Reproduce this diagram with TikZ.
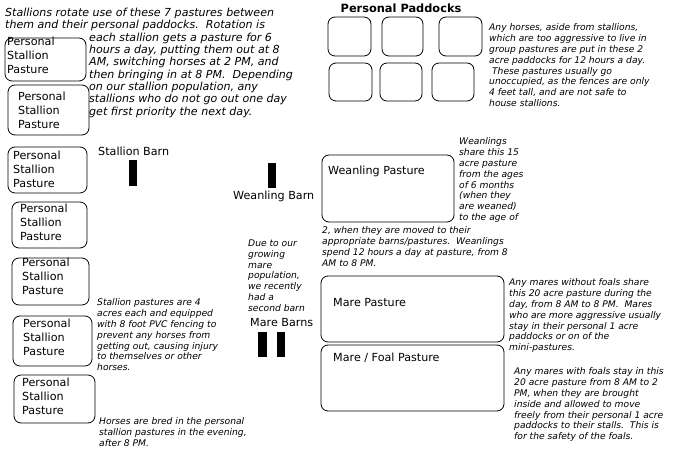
\documentclass[tikz,border=0pt]{standalone}
\usepackage{fontspec}
\setmainfont{DejaVu Sans}

\begin{document}
\begin{tikzpicture}[x=1bp, y=-1bp,
  pasture/.style={draw, line width=0.8bp, rounded corners=7bp},
  barn/.style={fill=black},
  lbl/.style={font=\fontsize{11.2}{14}\selectfont, align=left, inner sep=0},
  note/.style={font=\itshape\fontsize{9.2}{10.9}\selectfont, align=left, anchor=north west, inner sep=0},
  bignote/.style={note, font=\itshape\fontsize{11.1}{12.4}\selectfont}]
  \useasboundingbox (0,0) rectangle (692,450);

  % personal stallion pastures, top to bottom
  \draw[pasture] (5,38) rectangle (86,81);
  \draw[pasture] (8,85) rectangle (89,135);
  \draw[pasture] (8,147) rectangle (87,193);
  \draw[pasture] (12,202) rectangle (87,248);
  \draw[pasture] (12,258) rectangle (89,305);
  \draw[pasture] (13,316) rectangle (92,366);
  \draw[pasture] (14,375) rectangle (95,423);
  \node[lbl, anchor=north west] (sp1) at (7,37) {Personal\\Stallion\\Pasture};
  \node[lbl, anchor=north west] (sp2) at (18,92) {Personal\\Stallion\\Pasture};
  \node[lbl, anchor=north west] (sp3) at (13,151) {Personal\\Stallion\\Pasture};
  \node[lbl, anchor=north west] (sp4) at (20,204) {Personal\\Stallion\\Pasture};
  \node[lbl, anchor=north west] (sp5) at (22,258) {Personal\\Stallion\\Pasture};
  \node[lbl, anchor=north west] (sp6) at (23,319) {Personal\\Stallion\\Pasture};
  \node[lbl, anchor=north west] (sp7) at (22,378) {Personal\\Stallion\\Pasture};

  % personal paddocks
  \node[font=\bfseries\fontsize{11.4}{13}\selectfont, inner sep=0] (paddocks) at (401,8) {Personal Paddocks};
  \draw[pasture] (328,17) rectangle (371,56);
  \draw[pasture] (382,17) rectangle (423,56);
  \draw[pasture] (439,17) rectangle (482,56);
  \draw[pasture] (329,63) rectangle (372,101);
  \draw[pasture] (380,63) rectangle (422,101);
  \draw[pasture] (432,63) rectangle (474,101);

  % group pastures
  \draw[pasture] (322,155) rectangle (454,222);
  \draw[pasture] (321,276) rectangle (504,342);
  \draw[pasture] (321,345) rectangle (504,411);
  \node[lbl, anchor=west] (weanpast) at (328,171) {Weanling Pasture};
  \node[lbl, anchor=west] (marepast) at (333,303) {Mare Pasture};
  \node[lbl, anchor=west] (foalpast) at (333,358) {Mare / Foal Pasture};

  % barns
  \fill[barn] (129,160) rectangle (137,186);
  \fill[barn] (268,163) rectangle (276,188);
  \fill[barn] (258,332) rectangle (267,357);
  \fill[barn] (277,332) rectangle (285,357);
  \node[lbl, anchor=west] (stalbarn) at (98,151) {Stallion Barn};
  \node[lbl, anchor=west] (weanbarn) at (233,196) {Weanling Barn};
  \node[lbl, anchor=west] (marebarn) at (250,323) {Mare Barns};

  % notes
  \node[bignote] (rot1) at (5,7.5) {Stallions rotate use of these 7 pastures between\\them and their personal paddocks.\ \ Rotation is};
  \node[bignote] (rot2) at (89,32.5) {each stallion gets a pasture for 6\\hours a day, putting them out at 8\\AM, switching horses at 2 PM, and\\then bringing in at 8 PM.\ \ Depending\\on our stallion population, any\\stallions who do not go out one day\\get first priority the next day.};
  \node[note] (padnote) at (489,23.5) {Any horses, aside from stallions,\\which are too aggressive to live in\\group pastures are put in these 2\\acre paddocks for 12 hours a day.\\\ These pastures usually go\\unoccupied, as the fences are only\\4 feet tall, and are not safe to\\house stallions.};
  \node[note] (wean1) at (459,137.5) {Weanlings\\share this 15\\acre pasture\\from the ages\\of 6 months\\(when they\\are weaned)\\to the age of};
  \node[note] (wean2) at (322,226.5) {2, when they are moved to their\\appropriate barns/pastures.\ \ Weanlings\\spend 12 hours a day at pasture, from 8\\AM to 8 PM.};
  \node[note] (growing) at (248,239.5) {Due to our\\growing\\mare\\population,\\we recently\\had a\\second barn};
  \node[note] (fencing) at (97,298.5) {Stallion pastures are 4\\acres each and equipped\\with 8 foot PVC fencing to\\prevent any horses from\\getting out, causing injury\\to themselves or other\\horses.};
  \node[note] (bred) at (99,417.5) {Horses are bred in the personal\\stallion pastures in the evening,\\after 8 PM.};
  \node[note] (mares) at (509,278.5) {Any mares without foals share\\this 20 acre pasture during the\\day, from 8 AM to 8 PM.\ \ Mares\\who are more aggressive usually\\stay in their personal 1 acre\\paddocks or on of the\\mini-pastures.};
  \node[note] (foals) at (514,367.5) {Any mares with foals stay in this\\20 acre pasture from 8 AM to 2\\PM, when they are brought\\inside and allowed to move\\freely from their personal 1 acre\\paddocks to their stalls.\ \ This is\\for the safety of the foals.};
\end{tikzpicture}
\end{document}
